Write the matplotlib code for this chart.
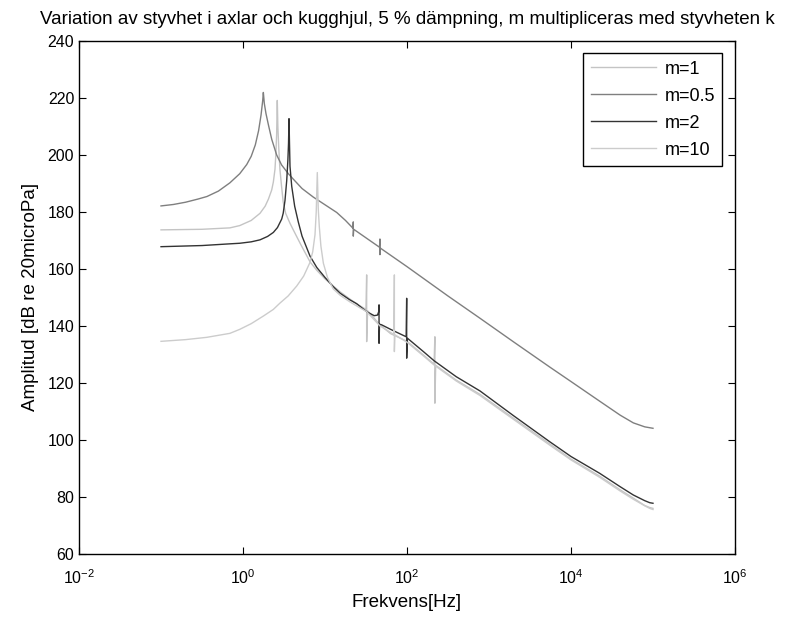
import matplotlib
matplotlib.use('Agg')
import matplotlib.pyplot as plt
import numpy as np
from matplotlib.ticker import NullLocator

plt.rcParams['font.family'] = ['Liberation Sans', 'DejaVu Sans']
plt.rcParams['mathtext.fontset'] = 'custom'
plt.rcParams['mathtext.rm'] = 'Liberation Sans'

# Values: frequency as log10(Hz), level in dB re 20 microPa
lf_m1 = [-1.0, -0.5, -0.16, -0.04, 0.1, 0.207, 0.27, 0.31, 0.35, 0.37, 0.39, 0.40, 0.41, 0.418,
         0.425, 0.435, 0.45, 0.47, 0.49, 0.52, 0.573, 0.613, 0.7, 0.817, 0.9, 1.0, 1.1, 1.183,
         1.3, 1.4, 1.5, 1.508, 1.508, 1.52, 1.67, 1.8, 2.0, 2.2, 2.33, 2.34, 2.34, 2.35, 2.6,
         2.89, 3.3, 3.74, 4.0, 4.35, 4.6, 4.76, 4.9, 4.96, 5.0]
db_m1 = [173.7, 173.9, 174.4, 175.2, 177.0, 179.5, 182.0, 184.5, 187.7, 190.5, 195.0, 200.0, 207.0, 219.1,
         210.0, 203.0, 195.0, 189.0, 183.5, 179.5, 176.0, 173.7, 168.8, 162.5, 159.5, 156.5, 154.0, 152.0,
         149.5, 147.5, 145.8, 157.9, 134.5, 145.3, 140.4, 137.3, 134.6, 129.8, 126.6, 136.2, 112.9, 126.2, 121.0,
         116.0, 107.6, 98.6, 93.3, 87.3, 82.5, 79.6, 77.0, 76.3, 76.0]

lf_m05 = [-1.0, -0.85, -0.7, -0.55, -0.44, -0.3, -0.16, -0.04, 0.045, 0.10, 0.15, 0.19, 0.22, 0.24,
          0.248, 0.26, 0.28, 0.31, 0.35, 0.41, 0.47, 0.55, 0.613, 0.72, 0.857, 1.0, 1.143, 1.25,
          1.34, 1.345, 1.345, 1.35, 1.665, 1.67, 1.67, 1.675, 2.0, 2.5, 2.89, 3.3, 3.74, 4.0,
          4.35, 4.6, 4.76, 4.9, 5.0]
db_m05 = [182.1, 182.6, 183.4, 184.5, 185.4, 187.3, 190.2, 193.4, 196.6, 199.5, 203.5, 208.5, 214.0, 219.0,
          221.9, 218.0, 214.5, 210.5, 205.5, 200.0, 196.5, 193.5, 191.5, 188.2, 185.2, 182.5, 179.8, 177.0,
          174.3, 176.5, 171.5, 173.9, 167.6, 170.5, 165.0, 167.3, 160.8, 150.5, 142.7, 134.4, 125.6, 120.5,
          113.6, 108.7, 106.0, 104.6, 104.1]

lf_m2 = [-1.0, -0.5, -0.16, -0.04, 0.1, 0.207, 0.3, 0.37, 0.42, 0.472, 0.49, 0.512, 0.533, 0.547,
         0.555, 0.561, 0.567, 0.573, 0.594, 0.63, 0.674, 0.72, 0.817, 0.9, 1.0, 1.1, 1.183, 1.3,
         1.386, 1.508, 1.6, 1.64, 1.655, 1.659, 1.659, 1.665, 1.69, 1.8, 1.99, 1.996, 1.996, 2.005,
         2.2, 2.33, 2.6, 2.89, 3.3, 3.74, 4.0, 4.35, 4.6, 4.76, 4.9, 4.96, 5.0]
db_m2 = [167.8, 168.2, 168.8, 169.0, 169.5, 170.2, 171.4, 172.8, 174.5, 177.5, 179.5, 184.0, 191.0, 198.0,
         204.0, 212.7, 204.0, 196.0, 189.0, 182.0, 176.5, 171.5, 164.5, 160.5, 157.0, 153.8, 151.5, 149.2,
         147.8, 145.0, 143.6, 143.8, 145.0, 147.4, 133.9, 140.6, 140.4, 138.8, 136.2, 149.7, 128.7, 135.7,
         131.0, 127.8, 122.2, 117.2, 108.5, 99.4, 94.2, 88.3, 83.6, 80.7, 78.7, 78.0, 77.8]

lf_m10 = [-1.0, -0.7, -0.443, -0.16, -0.04, 0.1, 0.25, 0.37, 0.45, 0.55, 0.655, 0.74, 0.817, 0.85,
          0.878, 0.893, 0.906, 0.918, 0.93, 0.95, 0.98, 1.03, 1.1, 1.183, 1.3, 1.4, 1.508, 1.67,
          1.84, 1.846, 1.846, 1.852, 2.0, 2.2, 2.33, 2.6, 2.89, 3.3, 3.74, 4.0, 4.35, 4.6, 4.76,
          4.9, 4.96, 5.0]
db_m10 = [134.6, 135.2, 136.0, 137.4, 138.8, 140.8, 143.5, 145.8, 148.0, 150.5, 154.0, 157.5, 162.3, 166.0,
          172.0, 180.0, 193.8, 181.0, 175.0, 168.0, 162.0, 157.0, 153.0, 150.8, 148.5, 146.8, 145.0, 140.0,
          137.0, 157.9, 131.0, 136.9, 134.3, 129.5, 126.3, 120.7, 115.6, 107.2, 98.2, 93.0, 86.9, 82.1, 79.2,
          76.9, 76.0, 75.6]

x_ticks = [1e-2, 1e0, 1e2, 1e4, 1e6]
y_ticks = [60, 80, 100, 120, 140, 160, 180, 200, 220, 240]

fig = plt.figure(figsize=(7.95, 6.19), dpi=100)
ax = fig.add_axes([0.0994, 0.105, 0.8251, 0.829])

ax.semilogx(np.power(10.0, lf_m1), db_m1, color='#c4c4c4', lw=1.0, label='m=1')
ax.semilogx(np.power(10.0, lf_m05), db_m05, color='#7f7f7f', lw=1.0, label='m=0.5')
ax.semilogx(np.power(10.0, lf_m2), db_m2, color='#333333', lw=1.0, label='m=2')
ax.semilogx(np.power(10.0, lf_m10), db_m10, color='#cccccc', lw=1.0, label='m=10')

ax.set_xlim(1e-2, 1e6)
ax.set_ylim(60, 240)
ax.set_xticks(x_ticks)
ax.xaxis.set_minor_locator(NullLocator())
ax.set_yticks(y_ticks)
ax.tick_params(direction='in', top=True, right=True, length=5, labelsize=11.5)
ax.tick_params(axis='x', pad=10)
for s in ax.spines.values():
    s.set_linewidth(1.0)

ax.set_xlabel('Frekvens[Hz]', fontsize=13.5, labelpad=5)
ax.set_ylabel('Amplitud [dB re 20microPa]', fontsize=13.5, labelpad=6)
ax.set_title('Variation av styvhet i axlar och kugghjul, 5 % dämpning, m multipliceras med styvheten k',
             fontsize=13.5, pad=12)

leg = ax.legend(loc='upper right', fontsize=13, handlelength=3.6, handletextpad=0.5,
                labelspacing=0.55, borderaxespad=0.7, fancybox=False, framealpha=1)
leg.get_frame().set_edgecolor('black')
leg.get_frame().set_linewidth(1.0)

plt.savefig('out.png', dpi=100)
